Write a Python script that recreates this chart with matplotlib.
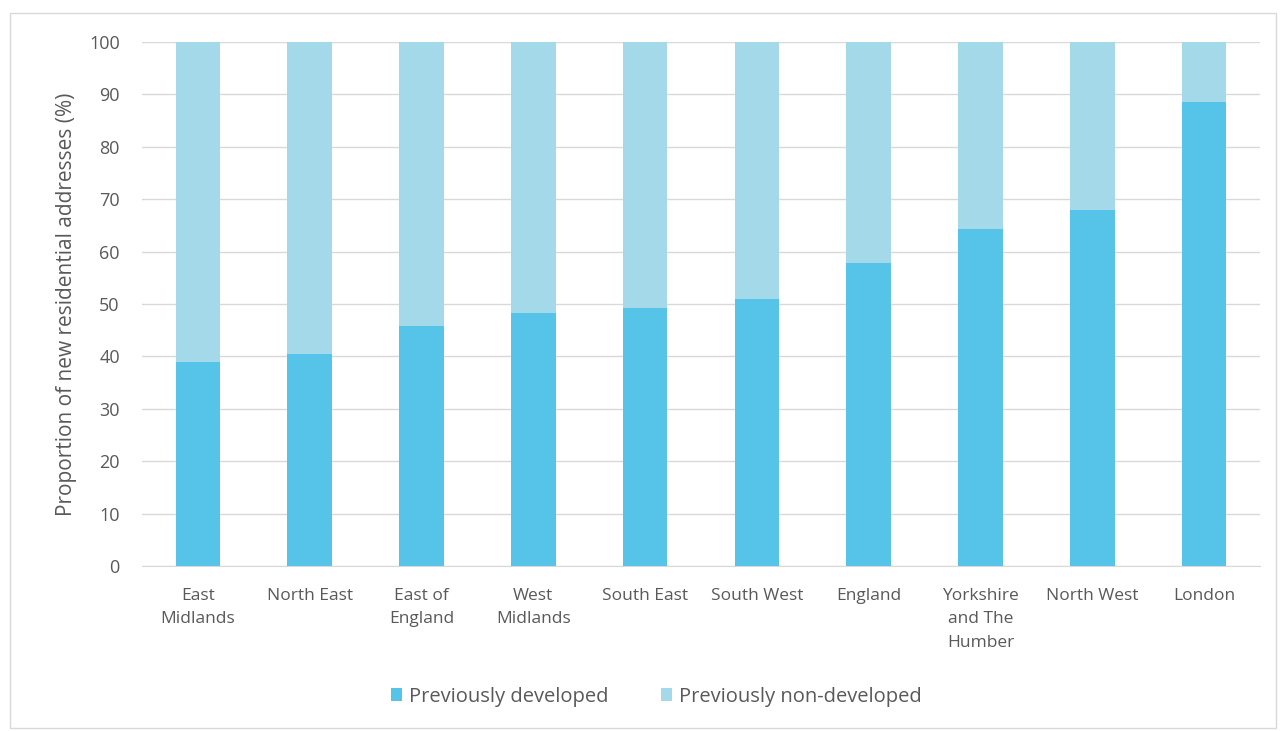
import matplotlib
matplotlib.use("Agg")
import matplotlib.pyplot as plt
from matplotlib.patches import Rectangle

categories = ["East\nMidlands", "North East", "East of\nEngland", "West\nMidlands", "South East",
              "South West", "England", "Yorkshire\nand The\nHumber", "North West", "London"]
developed = [38.9, 40.4, 45.9, 48.2, 49.3, 50.9, 57.9, 64.4, 68.0, 88.6]
non_developed = [100 - v for v in developed]
yticks = list(range(0, 101, 10))

plt.rcParams['font.family'] = ['Open Sans', 'DejaVu Sans']
txt = '#595959'
c_dev = '#56C4E8'
c_non = '#A3D9E8'

fig = plt.figure(figsize=(12.84, 7.31), dpi=100)
ax = fig.add_axes([0.1106, 0.2257, 0.8707, 0.7168])
x = range(len(categories))
ax.bar(x, developed, width=0.4, color=c_dev, label='Previously developed', zorder=3)
ax.bar(x, non_developed, width=0.4, bottom=developed, color=c_non, label='Previously non-developed', zorder=3)

ax.set_ylim(0, 100)
ax.set_xlim(-0.5, len(categories) - 0.5)
ax.set_yticks(yticks)
ax.set_yticklabels([str(t) for t in yticks], color=txt, fontsize=13)
ax.set_xticks(list(x))
ax.set_xticklabels(categories, color=txt, fontsize=12.5, linespacing=1.6)
ax.tick_params(axis='y', length=0, pad=16)
ax.tick_params(axis='x', length=0, pad=16)
ax.yaxis.grid(True, color='#d9d9d9', linewidth=1, zorder=0)
for s in ['top', 'right', 'left']:
    ax.spines[s].set_visible(False)
ax.spines['bottom'].set_color('#d9d9d9')
ax.set_ylabel('Proportion of new residential addresses (%)', color=txt, fontsize=15, labelpad=9)

fig.legend(loc='center', bbox_to_anchor=(0.511, 0.047), ncol=2, frameon=False,
           fontsize=14.5, labelcolor=txt, handlelength=0.55, handleheight=0.55,
           handletextpad=0.35, columnspacing=2.6)

fig.patches.append(Rectangle((10 / 1284, 0.004), 1266 / 1284, 1 - 13 / 731 - 0.004,
                             transform=fig.transFigure, fill=False, edgecolor='#d9d9d9', linewidth=1))
fig.savefig('out.png', dpi=100)
